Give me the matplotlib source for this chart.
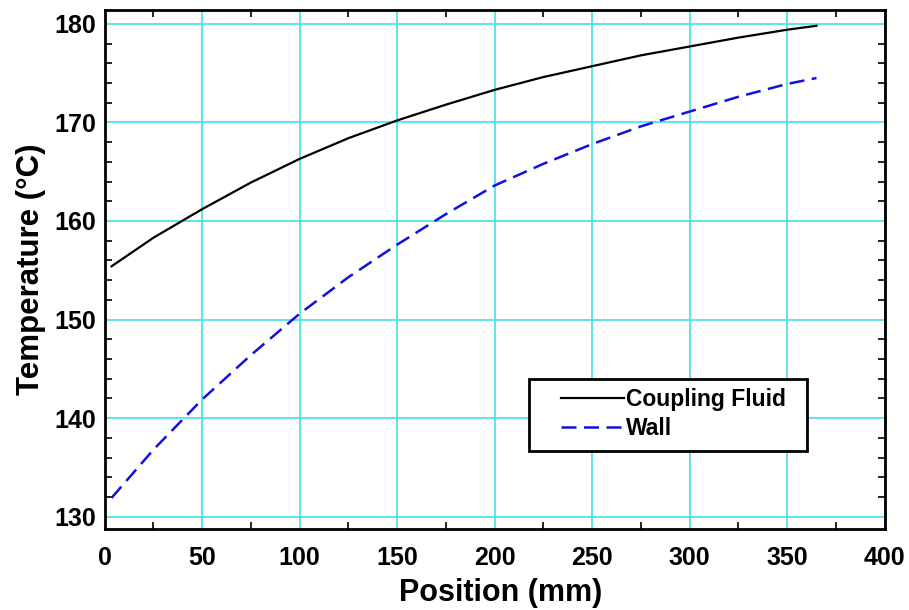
# temperature_profile.py
# Coupling fluid and wall temperature along the channel position.

import matplotlib
matplotlib.use('Agg')
import matplotlib.pyplot as plt
from matplotlib.patches import Rectangle
from matplotlib.ticker import MultipleLocator

plt.rcParams['font.family'] = ['Liberation Sans', 'DejaVu Sans']
plt.rcParams['font.weight'] = 'bold'

# Position along the channel (mm)
position = [3.5, 25, 50, 75, 100, 125, 150, 175, 200, 225, 250, 275, 300, 325, 350, 365]

# Temperatures (deg C)
fluid_temp = [155.4, 158.3, 161.2, 163.9, 166.3, 168.4, 170.2, 171.8,
              173.3, 174.6, 175.7, 176.8, 177.7, 178.6, 179.4, 179.8]
wall_temp = [131.9, 136.8, 141.9, 146.4, 150.6, 154.3, 157.6, 160.7,
             163.6, 165.8, 167.8, 169.6, 171.1, 172.6, 173.9, 174.5]

fig = plt.figure(figsize=(9.09, 6.10), dpi=100)
ax = fig.add_axes([0.1152, 0.1328, 0.8581, 0.8508])

ax.plot(position, fluid_temp, color='black', linewidth=1.6, label='Coupling Fluid')
ax.plot(position, wall_temp, color='#1010e0', linewidth=1.8,
        dashes=(6, 3), label='Wall')

ax.set_xlim(0, 400)
ax.set_ylim(128.75, 181.4)
ax.xaxis.set_major_locator(MultipleLocator(50))
ax.xaxis.set_minor_locator(MultipleLocator(25))
ax.yaxis.set_major_locator(MultipleLocator(10))
ax.yaxis.set_minor_locator(MultipleLocator(2))

ax.grid(True, which='major', color='#40e0e8', linewidth=1.2)
ax.set_axisbelow(True)

ax.tick_params(which='both', direction='in', top=True, right=True,
               labelsize=18, width=1.2)
ax.tick_params(axis='x', which='both', pad=12)
ax.tick_params(axis='y', which='both', pad=6)
ax.tick_params(which='major', length=0)
ax.tick_params(which='minor', length=5)
for lbl in ax.get_xticklabels() + ax.get_yticklabels():
    lbl.set_fontweight('bold')

for side in ax.spines.values():
    side.set_linewidth(2)

ax.set_xlabel('Position (mm)', fontsize=22, fontweight='bold', labelpad=6)
ax.xaxis.label.set_x(0.507)
ax.set_ylabel('Temperature (°C)', fontsize=22.5, fontweight='bold', labelpad=6)

# legend box drawn separately so the entries can sit off-centre inside it
box = Rectangle((0.544, 0.150), 0.356, 0.139, transform=ax.transAxes,
                facecolor='white', edgecolor='black', linewidth=2, zorder=4)
ax.add_patch(box)
leg = ax.legend(loc='center left', bbox_to_anchor=(0.585, 0.2216),
                fontsize=16.5, frameon=False, handlelength=2.75,
                handletextpad=0.1, borderpad=0, labelspacing=0.3,
                borderaxespad=0)
leg.set_zorder(5)
for t in leg.get_texts():
    t.set_fontweight('bold')

fig.savefig('out.png', dpi=100)
